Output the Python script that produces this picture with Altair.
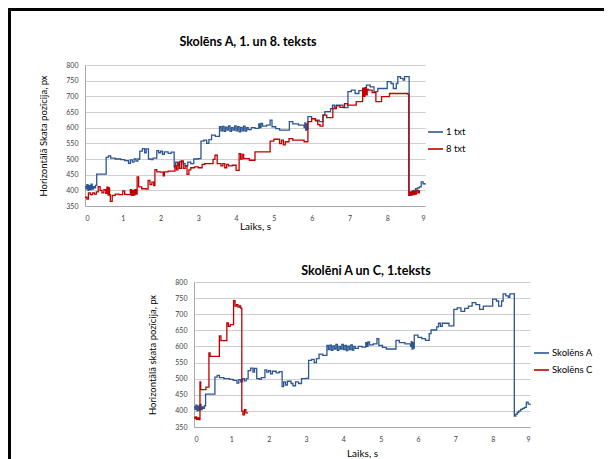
import altair as alt
import pandas as pd

# ---- data -------------------------------------------------------------
# Skolēns A, text 1 (blue, both panels)
a1_t = [0.00, 0.03, 0.05, 0.08, 0.10, 0.13, 0.16, 0.19, 0.22, 0.25, 0.28, 0.31,
        0.56, 0.62, 0.68, 0.80, 0.95, 1.05, 1.15, 1.20, 1.25, 1.30, 1.35, 1.40,
        1.45, 1.52, 1.58, 1.62, 1.68, 1.75, 1.80, 1.90, 1.95, 2.00, 2.05, 2.10,
        2.20, 2.28, 2.36, 2.40, 2.45, 2.50, 2.60, 2.65, 2.72, 2.80, 2.88, 3.00,
        3.07, 3.15, 3.22, 3.28, 3.35, 3.45, 3.56, 3.60, 3.64, 3.68, 3.72, 3.76,
        3.80, 3.84, 3.88, 3.92, 3.96, 4.00, 4.04, 4.08, 4.12, 4.16, 4.20, 4.24,
        4.28, 4.32, 4.40, 4.50, 4.60, 4.63, 4.66, 4.70, 4.80, 4.90, 4.95, 5.05,
        5.15, 5.41, 5.50, 5.65, 5.80, 5.82, 5.84, 5.86, 5.88, 5.90, 6.00, 6.10,
        6.20, 6.30, 6.35, 6.50, 6.55, 6.60, 6.65, 6.83, 6.96, 7.05, 7.15, 7.25,
        7.35, 7.45, 7.55, 7.65, 7.75, 8.00, 8.10, 8.16, 8.24, 8.28, 8.35, 8.42,
        8.46, 8.58, 8.62, 8.66, 8.70, 8.75, 8.80, 8.85, 8.90, 8.95, 9.00]
a1_v = [412, 405, 418, 400, 415, 402, 420, 404, 412, 408, 416, 452,
        505, 510, 503, 500, 498, 495, 486, 497, 490, 500, 493, 500,
        525, 533, 520, 532, 500, 498, 503, 527, 520, 525, 515, 523,
        518, 522, 475, 490, 480, 492, 485, 478, 490, 485, 500, 501,
        557, 560, 550, 562, 576, 572, 603, 590, 604, 588, 602, 592,
        606, 588, 600, 592, 606, 590, 603, 587, 601, 590, 605, 589,
        600, 594, 600, 598, 612, 600, 614, 605, 608, 624, 603, 597,
        592, 619, 612, 608, 600, 615, 592, 612, 595, 635, 628, 624,
        619, 640, 651, 661, 672, 662, 672, 664, 715, 720, 709, 718,
        725, 736, 730, 715, 725, 747, 741, 725, 741, 763, 757, 752,
        763, 384, 390, 395, 400, 405, 408, 411, 427, 421, 418]

# Skolēns A, text 8 (red, upper panel)
a8_t = [0.00, 0.05, 0.09, 0.14, 0.20, 0.25, 0.30, 0.35, 0.40, 0.45, 0.50, 0.55,
        0.58, 0.61, 0.63, 0.65, 0.67, 0.72, 0.80, 0.90, 1.00, 1.05, 1.10, 1.20,
        1.23, 1.26, 1.29, 1.32, 1.35, 1.38, 1.42, 1.50, 1.62, 1.67, 1.72, 1.77,
        1.82, 1.85, 1.90, 2.00, 2.07, 2.10, 2.20, 2.38, 2.42, 2.46, 2.50, 2.55,
        2.60, 2.65, 2.70, 2.75, 2.80, 2.90, 3.00, 3.10, 3.17, 3.39, 3.44, 3.50,
        3.60, 3.65, 3.70, 3.75, 3.80, 3.90, 4.00, 4.08, 4.12, 4.16, 4.20, 4.35,
        4.50, 4.90, 5.00, 5.15, 5.20, 5.25, 5.30, 5.40, 5.50, 5.80, 5.90, 6.00,
        6.10, 6.16, 6.22, 6.30, 6.40, 6.56, 6.65, 6.75, 6.87, 6.95, 7.18, 7.35,
        7.38, 7.41, 7.44, 7.47, 7.50, 7.60, 7.70, 7.85, 8.06, 8.55, 8.57, 8.60,
        8.63, 8.66, 8.69, 8.72, 8.75, 8.78, 8.82, 8.85]
a8_v = [378, 372, 392, 386, 392, 388, 395, 412, 400, 392, 402, 390,
        410, 385, 408, 386, 365, 384, 388, 386, 398, 387, 386, 402,
        384, 400, 385, 402, 388, 443, 411, 405, 404, 432, 418, 426,
        415, 466, 459, 458, 446, 459, 461, 478, 465, 488, 470, 494,
        470, 478, 451, 465, 472, 475, 472, 483, 485, 499, 512, 485,
        478, 485, 472, 483, 478, 480, 464, 517, 500, 515, 501, 496,
        523, 557, 563, 549, 560, 545, 555, 565, 560, 555, 619, 629,
        622, 610, 605, 640, 632, 661, 670, 665, 677, 672, 683, 725,
        700, 728, 705, 722, 720, 712, 683, 699, 709, 706, 384, 395,
        385, 398, 386, 396, 388, 400, 392, 400]

# Skolēns C, text 1 (red, lower panel)
c1_t = [0.00, 0.03, 0.05, 0.07, 0.10, 0.13, 0.16, 0.18, 0.32, 0.40, 0.43, 0.68,
        0.72, 0.88, 0.92, 0.97, 1.06, 1.10, 1.14, 1.18, 1.22, 1.25, 1.28, 1.31,
        1.35, 1.39, 1.43]
c1_v = [380, 376, 381, 374, 378, 373, 490, 466, 474, 580, 569, 633,
        618, 673, 662, 668, 742, 725, 730, 722, 726, 719, 399, 388,
        404, 394, 396]

x_ticks = [0, 1, 2, 3, 4, 5, 6, 7, 8, 9]
y_ticks = [350, 400, 450, 500, 550, 600, 650, 700, 750, 800]

top_title = "Skolēns A, 1. un 8. teksts"
bot_title = "Skolēni A un C, 1.teksts"

BLUE = "#2c5693"
RED = "#c00000"
FONT = "Lato"
GRID = "#cfcfcf"
AXISC = "#a6a6a6"

top_df = pd.concat([
    pd.DataFrame({"t": a1_t, "v": a1_v, "s": "1 txt"}),
    pd.DataFrame({"t": a8_t, "v": a8_v, "s": "8 txt"}),
])
bot_df = pd.concat([
    pd.DataFrame({"t": a1_t, "v": a1_v, "s": "Skolēns A"}),
    pd.DataFrame({"t": c1_t, "v": c1_v, "s": "Skolēns C"}),
])
one = pd.DataFrame({"k": [0]})


def x_enc(title_pad):
    return alt.X("t:Q", scale=alt.Scale(domain=[0, 9], nice=False),
                 axis=alt.Axis(values=x_ticks, title="Laiks, s", grid=False,
                               ticks=False, tickSize=0, labelPadding=8,
                               titlePadding=title_pad, labelFontSize=7,
                               titleFontSize=10, labelColor="#404040",
                               titleColor="#000000", titleFontWeight="normal",
                               domainColor=AXISC, labelFont=FONT, titleFont=FONT))


def y_enc(title):
    return alt.Y("v:Q", scale=alt.Scale(domain=[350, 800], nice=False),
                 axis=alt.Axis(values=y_ticks, title=title, grid=True,
                               gridColor=GRID, ticks=False, tickSize=0,
                               labelPadding=7, titlePadding=17, labelFontSize=7,
                               titleFontSize=9.5, labelColor="#404040",
                               titleColor="#000000", titleFontWeight="normal",
                               domainColor=AXISC, labelFont=FONT, titleFont=FONT))


def legend(lx, ly):
    return alt.Legend(title=None, orient="none", legendX=lx, legendY=ly,
                      symbolType="stroke", symbolSize=225, symbolStrokeWidth=1.6,
                      labelFontSize=9.5, labelFont=FONT, labelColor="#000000",
                      rowPadding=4, padding=0, labelOffset=2)


def block(x1, x2, y1, y2):
    return alt.Chart(one).mark_rect(color="black").encode(
        x=alt.value(x1), x2=alt.value(x2), y=alt.value(y1), y2=alt.value(y2))


def title_text(txt, x, y):
    return alt.Chart(one).mark_text(text=txt, font=FONT, fontSize=12.5,
                                    fontWeight="bold", color="#000000",
                                    baseline="middle", align="center").encode(
        x=alt.value(x), y=alt.value(y))


top_lines = alt.Chart(top_df).mark_line(interpolate="step-after", strokeWidth=1.3).encode(
    x=x_enc(0),
    y=y_enc("Horizontālā Skata pozīcija, px"),
    color=alt.Color("s:N", scale=alt.Scale(domain=["1 txt", "8 txt"], range=[BLUE, RED]),
                    legend=legend(342, 58.5)),
)

top = alt.layer(
    top_lines,
    block(-77, 519, -57, -54),
    block(-77, -74, -57, 195),
    title_text(top_title, 163, -23),
).properties(width=340, height=141)

bot_lines = alt.Chart(bot_df).mark_line(interpolate="step-after", strokeWidth=1.3).encode(
    x=x_enc(6),
    y=y_enc("Horizontālā skata pozīcija, px"),
    color=alt.Color("s:N", scale=alt.Scale(domain=["Skolēns A", "Skolēns C"], range=[BLUE, RED]),
                    legend=legend(339, 62.5)),
)
bottom = alt.layer(
    bot_lines,
    title_text(bot_title, 172, -11),
).properties(width=336, height=145)

spacer = block(-77, -74, -22, 178).properties(width=62, height=145)

row2 = alt.hconcat(spacer, bottom, spacing=0).resolve_scale(color="independent")

chart = alt.vconcat(top, row2, spacing=0).resolve_scale(
    color="independent", x="independent", y="independent"
).properties(padding=0, background="white").configure_view(stroke=None)

chart.save("out.html", embed_options={"renderer": "svg", "actions": False})
